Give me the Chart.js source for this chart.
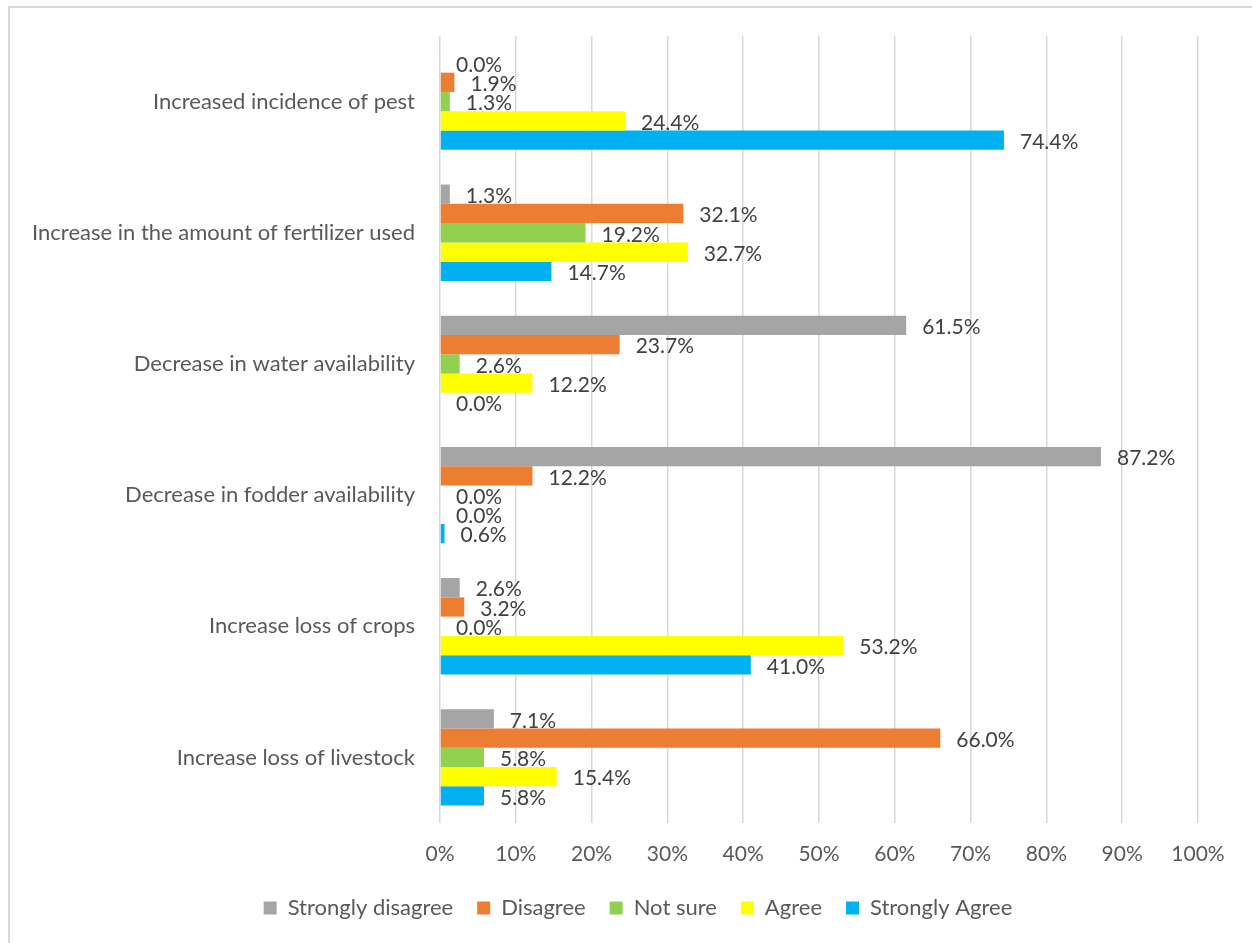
<!DOCTYPE html>
<html lang="en">
<head>
  <meta charset="UTF-8" />
  <title>Perceived effects</title>
  <script src="https://cdn.jsdelivr.net/npm/chart.js"></script>
  <style>
    html, body { margin: 0; padding: 0; background: #fff; }
    #wrap { position: relative; width: 1252px; height: 943px; overflow: hidden; }
    #frame { position: absolute; left: 8px; top: 6px; width: 1260px; height: 960px;
             border-left: 2px solid #d9d9d9; border-top: 2px solid #d9d9d9; }
    #chart { position: absolute; left: 0; top: 0; }
  </style>
</head>
<body>
  <div id="wrap">
    <div id="frame"></div>
    <canvas id="chart" width="1252" height="943"></canvas>
  </div>

  <script>
    // categories, top to bottom
    const categories = [
      'Increased incidence of pest',
      'Increase in the amount of fertilizer used',
      'Decrease in water availability',
      'Decrease in fodder availability',
      'Increase loss of crops',
      'Increase loss of livestock'
    ];

    // percentage of respondents per answer
    const stronglyDisagree = [0.0, 1.3, 61.5, 87.2, 2.6, 7.1];
    const disagree         = [1.9, 32.1, 23.7, 12.2, 3.2, 66.0];
    const notSure          = [1.3, 19.2, 2.6, 0.0, 0.0, 5.8];
    const agree            = [24.4, 32.7, 12.2, 0.0, 53.2, 15.4];
    const stronglyAgree    = [74.4, 14.7, 0.0, 0.6, 41.0, 5.8];

    const xTicks = [0, 10, 20, 30, 40, 50, 60, 70, 80, 90, 100];

    const FONT = "Lato, 'Open Sans', sans-serif";

    // value labels just past the end of every bar
    const valueLabels = {
      id: 'valueLabels',
      afterDatasetsDraw(chart) {
        const ctx = chart.ctx;
        ctx.save();
        ctx.font = '21px ' + FONT;
        ctx.fillStyle = '#404040';
        ctx.textAlign = 'left';
        ctx.textBaseline = 'middle';
        chart.data.datasets.forEach((ds, i) => {
          const meta = chart.getDatasetMeta(i);
          meta.data.forEach((bar, j) => {
            ctx.fillText(ds.data[j].toFixed(1) + '%', bar.x + 16, bar.y + 2);
          });
        });
        ctx.restore();
      }
    };

    // the legend in the original sits a bit right of the plot centre
    const shiftLegend = {
      id: 'shiftLegend',
      beforeDraw(chart) {
        if (chart.legend) chart.legend.left = 78;
      }
    };

    new Chart(document.getElementById('chart'), {
      type: 'bar',
      data: {
        labels: categories,
        datasets: [
          { label: 'Strongly disagree', data: stronglyDisagree, backgroundColor: '#A5A5A5' },
          { label: 'Disagree', data: disagree, backgroundColor: '#ED7D31' },
          { label: 'Not sure', data: notSure, backgroundColor: '#92D050' },
          { label: 'Agree', data: agree, backgroundColor: '#FFFF00' },
          { label: 'Strongly Agree', data: stronglyAgree, backgroundColor: '#00B0F0' }
        ]
      },
      options: {
        indexAxis: 'y',
        responsive: false,
        animation: false,
        categoryPercentage: 0.735,
        barPercentage: 1.0,
        layout: { padding: { left: 0, top: 36, right: 54, bottom: 14 } },
        scales: {
          x: {
            min: 0,
            max: 100,
            afterBuildTicks(scale) {
              scale.ticks = xTicks.map(v => ({ value: v }));
            },
            afterFit(scale) { scale.height = 50; },
            grid: { color: '#d9d9d9', lineWidth: 1.5, drawTicks: false },
            border: { display: false },
            ticks: {
              padding: 19,
              color: '#595959',
              font: { family: FONT, size: 21 },
              callback: v => v + '%'
            }
          },
          y: {
            afterFit(scale) { scale.width = 440; },
            grid: { display: false },
            border: { display: false },
            ticks: {
              padding: 17,
              color: '#595959',
              font: { family: FONT, size: 22 }
            }
          }
        },
        plugins: {
          legend: {
            position: 'bottom',
            labels: {
              boxWidth: 13,
              boxHeight: 13,
              padding: 24,
              color: '#595959',
              font: { family: FONT, size: 22 }
            }
          },
          tooltip: { enabled: false }
        }
      },
      plugins: [valueLabels, shiftLegend]
    });
  </script>
</body>
</html>
